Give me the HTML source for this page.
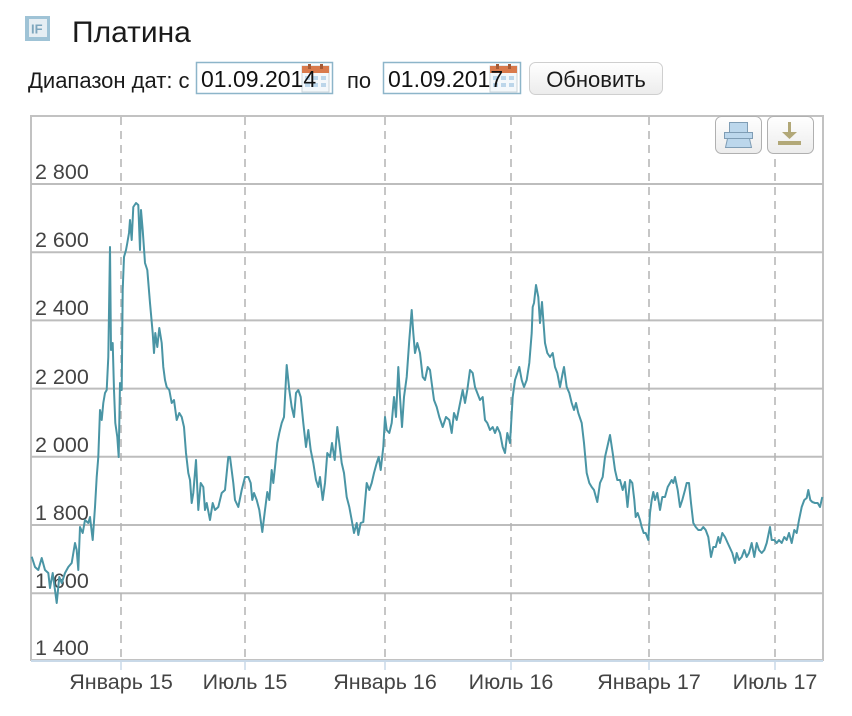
<!DOCTYPE html>
<html><head><meta charset="utf-8"><style>
html,body{margin:0;padding:0;background:#fff;}
svg{display:block;}
text{font-family:"Liberation Sans","Noto Sans CJK SC",sans-serif;}
</style></head><body>
<svg width="852" height="716" viewBox="0 0 852 716" xmlns="http://www.w3.org/2000/svg">
<defs>
<linearGradient id="bg" x1="0" y1="0" x2="0" y2="1"><stop offset="0" stop-color="#ffffff"/><stop offset="1" stop-color="#ececec"/></linearGradient>
</defs>
<!-- header icon -->
<rect x="25" y="16" width="25" height="25" fill="#9fc3d6"/>
<rect x="29" y="19" width="18" height="18" fill="#e6eef3"/>
<text x="31" y="33.5" font-size="13" font-weight="bold" fill="#7ea6bd">IF</text>
<text x="72" y="42" font-size="30" fill="#1a1a1a">Платина</text>
<!-- date row -->
<text x="28" y="88" font-size="22" fill="#1a1a1a">Диапазон дат: с</text>
<rect x="196.5" y="62.5" width="136" height="31" fill="#fff" stroke="#8db5c9" stroke-width="1.5"/>
<g transform="translate(302,64)">
<rect x="0" y="2" width="27" height="26" fill="#f4f8fb" stroke="#c9d3da"/>
<rect x="0" y="2" width="27" height="7" fill="#d97a4c"/>
<rect x="6" y="0" width="3" height="5" fill="#a55a35"/><rect x="18" y="0" width="3" height="5" fill="#a55a35"/>
<g fill="#bcd6ea"><rect x="3" y="12" width="5" height="4"/><rect x="11" y="12" width="5" height="4"/><rect x="19" y="12" width="5" height="4"/><rect x="3" y="19" width="5" height="4"/><rect x="11" y="19" width="5" height="4"/><rect x="19" y="19" width="5" height="4"/></g>
</g>
<text x="201" y="87" font-size="23" fill="#111">01.09.2014</text>
<text x="347" y="88" font-size="22" fill="#1a1a1a">по</text>
<rect x="383.5" y="62.5" width="137" height="31" fill="#fff" stroke="#8db5c9" stroke-width="1.5"/>
<g transform="translate(490,64)">
<rect x="0" y="2" width="27" height="26" fill="#f4f8fb" stroke="#c9d3da"/>
<rect x="0" y="2" width="27" height="7" fill="#d97a4c"/>
<rect x="6" y="0" width="3" height="5" fill="#a55a35"/><rect x="18" y="0" width="3" height="5" fill="#a55a35"/>
<g fill="#bcd6ea"><rect x="3" y="12" width="5" height="4"/><rect x="11" y="12" width="5" height="4"/><rect x="19" y="12" width="5" height="4"/><rect x="3" y="19" width="5" height="4"/><rect x="11" y="19" width="5" height="4"/><rect x="19" y="19" width="5" height="4"/></g>
</g>
<text x="388" y="87" font-size="23" fill="#111">01.09.2017</text>
<rect x="529.5" y="62.5" width="133" height="32" rx="6" fill="url(#bg)" stroke="#cfcfcf"/>
<text x="596" y="87" font-size="22" fill="#1a1a1a" text-anchor="middle">Обновить</text>

<!-- chart -->
<rect x="31" y="116" width="792" height="544" fill="#fff" stroke="#c2c2c2" stroke-width="2"/>
<g stroke="#bdbdbd" stroke-width="2">
<line x1="31" y1="184" x2="823" y2="184"/>
<line x1="31" y1="252.2" x2="823" y2="252.2"/>
<line x1="31" y1="320.4" x2="823" y2="320.4"/>
<line x1="31" y1="388.6" x2="823" y2="388.6"/>
<line x1="31" y1="456.8" x2="823" y2="456.8"/>
<line x1="31" y1="525" x2="823" y2="525"/>
<line x1="31" y1="593.2" x2="823" y2="593.2"/>
</g>
<g stroke="#b3b3b3" stroke-width="1.5" stroke-dasharray="8,6">
<line x1="121" y1="117" x2="121" y2="659"/>
<line x1="245" y1="117" x2="245" y2="659"/>
<line x1="385" y1="117" x2="385" y2="659"/>
<line x1="511" y1="117" x2="511" y2="659"/>
<line x1="649" y1="117" x2="649" y2="659"/>
<line x1="775" y1="117" x2="775" y2="659"/>
</g>
<line x1="31" y1="661" x2="823" y2="661" stroke="#c9d9e8" stroke-width="2"/>
<g stroke="#c9d9e8" stroke-width="1.5">
<line x1="121" y1="661" x2="121" y2="670"/><line x1="245" y1="661" x2="245" y2="670"/><line x1="385" y1="661" x2="385" y2="670"/><line x1="511" y1="661" x2="511" y2="670"/><line x1="649" y1="661" x2="649" y2="670"/><line x1="775" y1="661" x2="775" y2="670"/>
</g>
<g font-size="21.5" fill="#444">
<text x="35" y="179">2 800</text>
<text x="35" y="247">2 600</text>
<text x="35" y="315">2 400</text>
<text x="35" y="384">2 200</text>
<text x="35" y="452">2 000</text>
<text x="35" y="520">1 800</text>
<text x="35" y="588">1 600</text>
<text x="35" y="655">1 400</text>
</g>
<g font-size="21.5" fill="#444" text-anchor="middle">
<text x="121" y="689">Январь 15</text>
<text x="245" y="689">Июль 15</text>
<text x="385" y="689">Январь 16</text>
<text x="511" y="689">Июль 16</text>
<text x="649" y="689">Январь 17</text>
<text x="775" y="689">Июль 17</text>
</g>
<!-- buttons -->
<rect x="715.5" y="116.5" width="46" height="37" rx="6" fill="url(#bg)" stroke="#b0b0b0"/>
<rect x="767.5" y="116.5" width="46" height="37" rx="6" fill="url(#bg)" stroke="#b0b0b0"/>
<g fill="#bcd7ec" stroke="#7f9db5" stroke-width="1">
<rect x="729.5" y="122.5" width="18" height="10"/>
<rect x="724.5" y="132.5" width="28" height="6"/>
<path d="M727.5,138.5 L749.5,138.5 L751.5,147.5 L725.5,147.5 Z"/>
</g>
<g fill="#b2a878">
<rect x="788" y="122" width="3" height="11"/>
<path d="M782,132 L797,132 L789.5,139 Z"/>
<rect x="778" y="141" width="23" height="4"/>
</g>
<!-- series -->
<path fill="none" stroke="#4a95a5" stroke-width="2" stroke-linejoin="round" d="M31.7,556.7 L35,567 L38.3,570 L41.7,558 L45,570 L48.3,573 L50,588 L52.7,573 L55,590 L56.7,603 L59.3,577 L61.7,583 L65,573 L68.3,567 L71.7,563 L75,543 L76.7,550 L78.3,570 L80,527 L82.7,533 L85,520 L88.3,523 L90,517 L92.7,540 L95,507 L96.7,477 L98.3,457 L100,410 L101.7,420 L103.3,403 L105,393 L106.7,390 L108.3,357 L110,247 L111,350 L112.7,343 L114,390 L115.3,423 L117.3,437 L118.7,457 L120,383 L121.7,390 L122.7,290 L124,257 L126,250 L127.3,243 L129,233 L130,220 L131.7,240 L133.3,207 L136,203 L138.3,205 L140,250 L141,210 L142.7,230 L145,263 L147.3,270 L150,303 L152.7,333 L154,353 L155.3,333 L157.3,347 L159.3,328 L161.7,343 L163.3,367 L165,380 L166.7,387 L169.3,390 L171.7,403 L174,400 L176.7,420 L179.3,413 L181.7,417 L184,427 L186,453 L188.3,473 L190,480 L191.7,503 L193.3,493 L196,460 L198.3,510 L200.7,483 L203.3,487 L205,510 L206.7,503 L210,520 L212.7,503 L215,510 L218.3,507 L221.7,493 L225,490 L228.3,457 L230,457 L233.3,483 L235,500 L238.3,507 L241.7,490 L245,477 L248.3,477 L250.7,483 L252.3,500 L254,493 L256.7,500 L259.3,510 L262.3,532 L265,510 L267.3,492 L269.3,500 L271.7,470 L273.3,483 L275,467 L277.3,443 L279.3,433 L281.7,423 L284,417 L286.7,365 L289.3,390 L291.7,407 L294,417 L296,393 L298.3,390 L300.7,397 L303.3,423 L306,447 L308.3,430 L310.7,450 L313.3,463 L316,480 L318.3,487 L320,477 L322.7,500 L325,483 L327.3,453 L330,457 L332,443 L334.7,460 L337.3,427 L339.3,443 L341.7,463 L344,473 L346.7,497 L349.3,507 L351.7,520 L354,533 L356.7,523 L358.3,535 L360.7,523 L363.3,522 L366.7,483 L369.3,490 L371.7,483 L374,473 L376.7,463 L378.7,457 L380.7,470 L383.3,447 L385,417 L386.7,430 L389.3,433 L391.7,423 L394,397 L396,417 L398.3,367 L400,397 L402,427 L404,397 L406.7,377 L409.3,340 L411.7,310 L413.3,333 L415,353 L417.3,343 L420,353 L422.7,377 L425,380 L427.7,367 L430,370 L431.7,383 L434,400 L436.7,407 L439.3,417 L442.7,427 L446,417 L449.3,420 L451.7,433 L454,413 L456.7,420 L459.3,407 L462.7,390 L465,403 L467.3,390 L470,370 L472.7,373 L475,387 L477.3,393 L480,400 L482.7,397 L485,420 L487.3,423 L490,430 L492.7,427 L495,433 L497.3,427 L500,433 L502.7,447 L505,453 L507.3,433 L510,443 L512.7,397 L515,380 L517.3,373 L519.3,367 L521.7,380 L524,387 L526.7,380 L529.3,363 L531.7,333 L532.7,307 L534,303 L536,285 L538.3,297 L540,323 L542,302 L543.3,320 L545,343 L547.3,353 L550,357 L552.7,353 L555,367 L557.3,373 L560,387 L562.7,373 L564,367 L566.7,387 L569.3,393 L571.7,403 L574,410 L576,403 L578.3,413 L581.7,423 L584,443 L586.7,473 L589.3,483 L591.7,487 L594,490 L597.3,502 L600,483 L602.7,477 L605,457 L607.3,447 L610,435 L612.7,453 L615,470 L617.3,480 L620,480 L622.7,490 L625,482 L627.5,507 L630,480 L632.3,483 L634.3,500 L635.7,517 L637.7,513 L640,520 L641.7,527 L643.7,533 L645.7,533 L648.3,540 L650,513 L651.7,500 L653.3,492 L655,500 L657.3,493 L660,510 L662.3,497 L665,497 L667.7,487 L670,483 L671.7,480 L673.3,483 L675,477 L677.7,490 L680,507 L682.3,500 L685,490 L686.7,483 L689,483 L691,503 L693.3,523 L695.7,527 L698.3,530 L701,530 L703.3,527 L705.7,530 L708.3,537 L711,557 L713.3,547 L715.7,547 L718.3,537 L720,543 L722.3,533 L725,537 L727.7,543 L730,548 L732.3,553 L735,563 L736.7,553 L739,560 L741.7,557 L744.3,550 L746.7,557 L749,553 L751.7,543 L754.3,557 L756.7,543 L759,550 L761.7,553 L764.3,550 L766.7,543 L770,527 L771.7,540 L774.3,540 L776.7,543 L779,540 L781.7,543 L784.3,537 L786.7,540 L789,533 L791.7,543 L794.3,530 L796.7,533 L799,520 L801.7,507 L804.3,500 L806.7,498 L808.3,490 L810.3,500 L812.3,502 L815,503 L817.7,503 L820,507 L822.3,497"/>
</svg>
</body></html>
